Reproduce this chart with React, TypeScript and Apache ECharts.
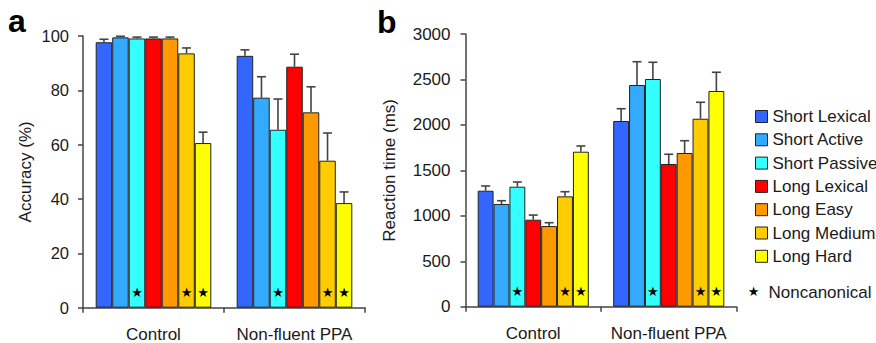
import React, { useEffect, useRef } from 'react';
import * as echarts from 'echarts';

const categories = ['Control', 'Non-fluent PPA'];
const seriesNames = ['Short Lexical', 'Short Active', 'Short Passive', 'Long Lexical', 'Long Easy', 'Long Medium', 'Long Hard'];
const seriesColors = ['#3366FF', '#33AAFF', '#33FFFF', '#FF0000', '#FF9900', '#FFCC00', '#FFFF00'];
const noncanonical = [false, false, true, false, false, true, true];

// Panel a: accuracy (%)
const accuracyControl = [97.7, 99.5, 99.1, 99.1, 99.1, 93.6, 60.6];
const accuracyControlErrTop = [98.8, 99.9, 99.6, 99.6, 99.6, 95.6, 64.6];
const accuracyPPA = [92.7, 77.3, 65.5, 88.7, 71.9, 54.1, 38.5];
const accuracyPPAErrTop = [94.9, 85.0, 76.8, 93.3, 81.3, 64.3, 42.6];

// Panel b: reaction time (ms)
const rtControl = [1276, 1130, 1320, 957, 887, 1214, 1705];
const rtControlErrTop = [1328, 1166, 1372, 1008, 924, 1265, 1768];
const rtPPA = [2043, 2439, 2505, 1570, 1691, 2068, 2373];
const rtPPAErrTop = [2178, 2695, 2689, 1677, 1826, 2249, 2579];

const FONT = '"Liberation Sans", Arial, Helvetica, sans-serif';
const AXIS_COLOR = '#444';
const TEXT_COLOR = '#1a1a1a';
const GAP = 0.18;

export default function App() {
  const ref = useRef<HTMLDivElement>(null);

  useEffect(() => {
    if (!ref.current) return;
    const chart = echarts.init(ref.current, undefined, { renderer: 'svg' });

    const panels = [
      { ctrl: accuracyControl, ctrlErr: accuracyControlErrTop, ppa: accuracyPPA, ppaErr: accuracyPPAErrTop },
      { ctrl: rtControl, ctrlErr: rtControlErrTop, ppa: rtPPA, ppaErr: rtPPAErrTop },
    ];

    const series: any[] = [];
    panels.forEach((p, pi) => {
      seriesNames.forEach((name, si) => {
        const vals = [p.ctrl[si], p.ppa[si]];
        series.push({
          name,
          type: 'bar',
          xAxisIndex: pi,
          yAxisIndex: pi,
          barGap: '0%',
          barCategoryGap: GAP * 100 + '%',
          itemStyle: { color: seriesColors[si], borderColor: '#222', borderWidth: 1 },
          data: vals.map((v) =>
            noncanonical[si]
              ? {
                  value: v,
                  label: {
                    show: true,
                    formatter: '\u2605',
                    position: 'insideBottom',
                    distance: 9,
                    fontSize: 13,
                    color: '#000',
                    fontFamily: '"DejaVu Sans", sans-serif',
                  },
                }
              : v
          ),
        });
      });
      const errData: number[][] = [];
      seriesNames.forEach((_, si) => {
        errData.push([0, si, p.ctrl[si], p.ctrlErr[si]]);
        errData.push([1, si, p.ppa[si], p.ppaErr[si]]);
      });
      series.push({
        name: 'err' + pi,
        type: 'custom',
        xAxisIndex: pi,
        yAxisIndex: pi,
        z: 5,
        encode: { x: 0, y: 2 },
        data: errData,
        renderItem: (params: any, api: any) => {
          const cat = api.value(0);
          const s = api.value(1);
          const top = api.coord([cat, api.value(2)]);
          const errPt = api.coord([cat, api.value(3)]);
          const band = api.size([1, 0])[0];
          const bw = (band * (1 - GAP)) / 7;
          const x = top[0] + (s - 3) * bw;
          const st = { stroke: AXIS_COLOR, lineWidth: 1.6 };
          return {
            type: 'group',
            children: [
              { type: 'line', shape: { x1: x, y1: top[1], x2: x, y2: errPt[1] }, style: st },
              { type: 'line', shape: { x1: x - 4.5, y1: errPt[1], x2: x + 4.5, y2: errPt[1] }, style: st },
            ],
          };
        },
      });
    });

    const axisLine = { show: true, lineStyle: { color: AXIS_COLOR, width: 1.5 } };
    const axisTick = { show: true, length: 5, inside: false, lineStyle: { color: AXIS_COLOR, width: 1.5 } };

    const xAxisBase = (gi: number) => ({
      type: 'category',
      gridIndex: gi,
      data: categories,
      axisLine,
      axisTick: { ...axisTick, alignWithLabel: false, interval: 0 },
      axisLabel: { fontSize: 17, color: TEXT_COLOR, fontFamily: FONT, margin: 18, interval: 0 },
      splitLine: { show: false },
    });

    chart.setOption({
      animation: false,
      backgroundColor: '#fff',
      textStyle: { fontFamily: FONT },
      grid: [
        { left: 83, top: 36, width: 282, height: 271.7 },
        { left: 465.5, top: 34, width: 271, height: 272.7 },
      ],
      xAxis: [xAxisBase(0), xAxisBase(1)],
      yAxis: [
        {
          type: 'value',
          gridIndex: 0,
          min: 0,
          max: 100,
          interval: 20,
          axisLine,
          axisTick,
          splitLine: { show: false },
          axisLabel: { fontSize: 16.5, color: TEXT_COLOR, fontFamily: FONT, margin: 14, formatter: (v: number) => String(v) },
          name: 'Accuracy (%)',
          nameLocation: 'middle',
          nameGap: 49,
          nameTextStyle: { fontSize: 17, color: TEXT_COLOR, fontFamily: FONT },
        },
        {
          type: 'value',
          gridIndex: 1,
          min: 0,
          max: 3000,
          interval: 500,
          axisLine,
          axisTick,
          splitLine: { show: false },
          axisLabel: { fontSize: 17, color: TEXT_COLOR, fontFamily: FONT, margin: 15, formatter: (v: number) => String(v) },
          name: 'Reaction time (ms)',
          nameLocation: 'middle',
          nameGap: 68,
          nameTextStyle: { fontSize: 17, color: TEXT_COLOR, fontFamily: FONT },
        },
      ],
      legend: {
        orient: 'vertical',
        left: 750,
        top: 103,
        itemWidth: 12,
        itemHeight: 12,
        itemGap: 6.3,
        icon: 'rect',
        selectedMode: false,
        data: seriesNames,
        itemStyle: { borderColor: '#222', borderWidth: 1 },
        textStyle: { fontSize: 17, color: TEXT_COLOR, fontFamily: FONT, lineHeight: 17 },
      },
      graphic: [
        {
          type: 'text',
          x: 8,
          y: 21,
          style: { text: 'a', font: 'bold 32px ' + FONT, fill: '#000', verticalAlign: 'middle' },
        },
        {
          type: 'text',
          x: 377,
          y: 22,
          style: { text: 'b', font: 'bold 32px ' + FONT, fill: '#000', verticalAlign: 'middle' },
        },
        {
          type: 'text',
          x: 753.5,
          y: 291,
          style: { text: '\u2605', font: '13px "DejaVu Sans", sans-serif', fill: '#000', align: 'center', verticalAlign: 'middle' },
        },
        {
          type: 'text',
          x: 768.5,
          y: 292,
          style: { text: 'Noncanonical', font: '17px ' + FONT, fill: TEXT_COLOR, verticalAlign: 'middle' },
        },
      ],
      series,
    });

    return () => chart.dispose();
  }, []);

  return <div ref={ref} style={{ position: 'fixed', left: 0, top: 0, width: 876, height: 343 }} />;
}
